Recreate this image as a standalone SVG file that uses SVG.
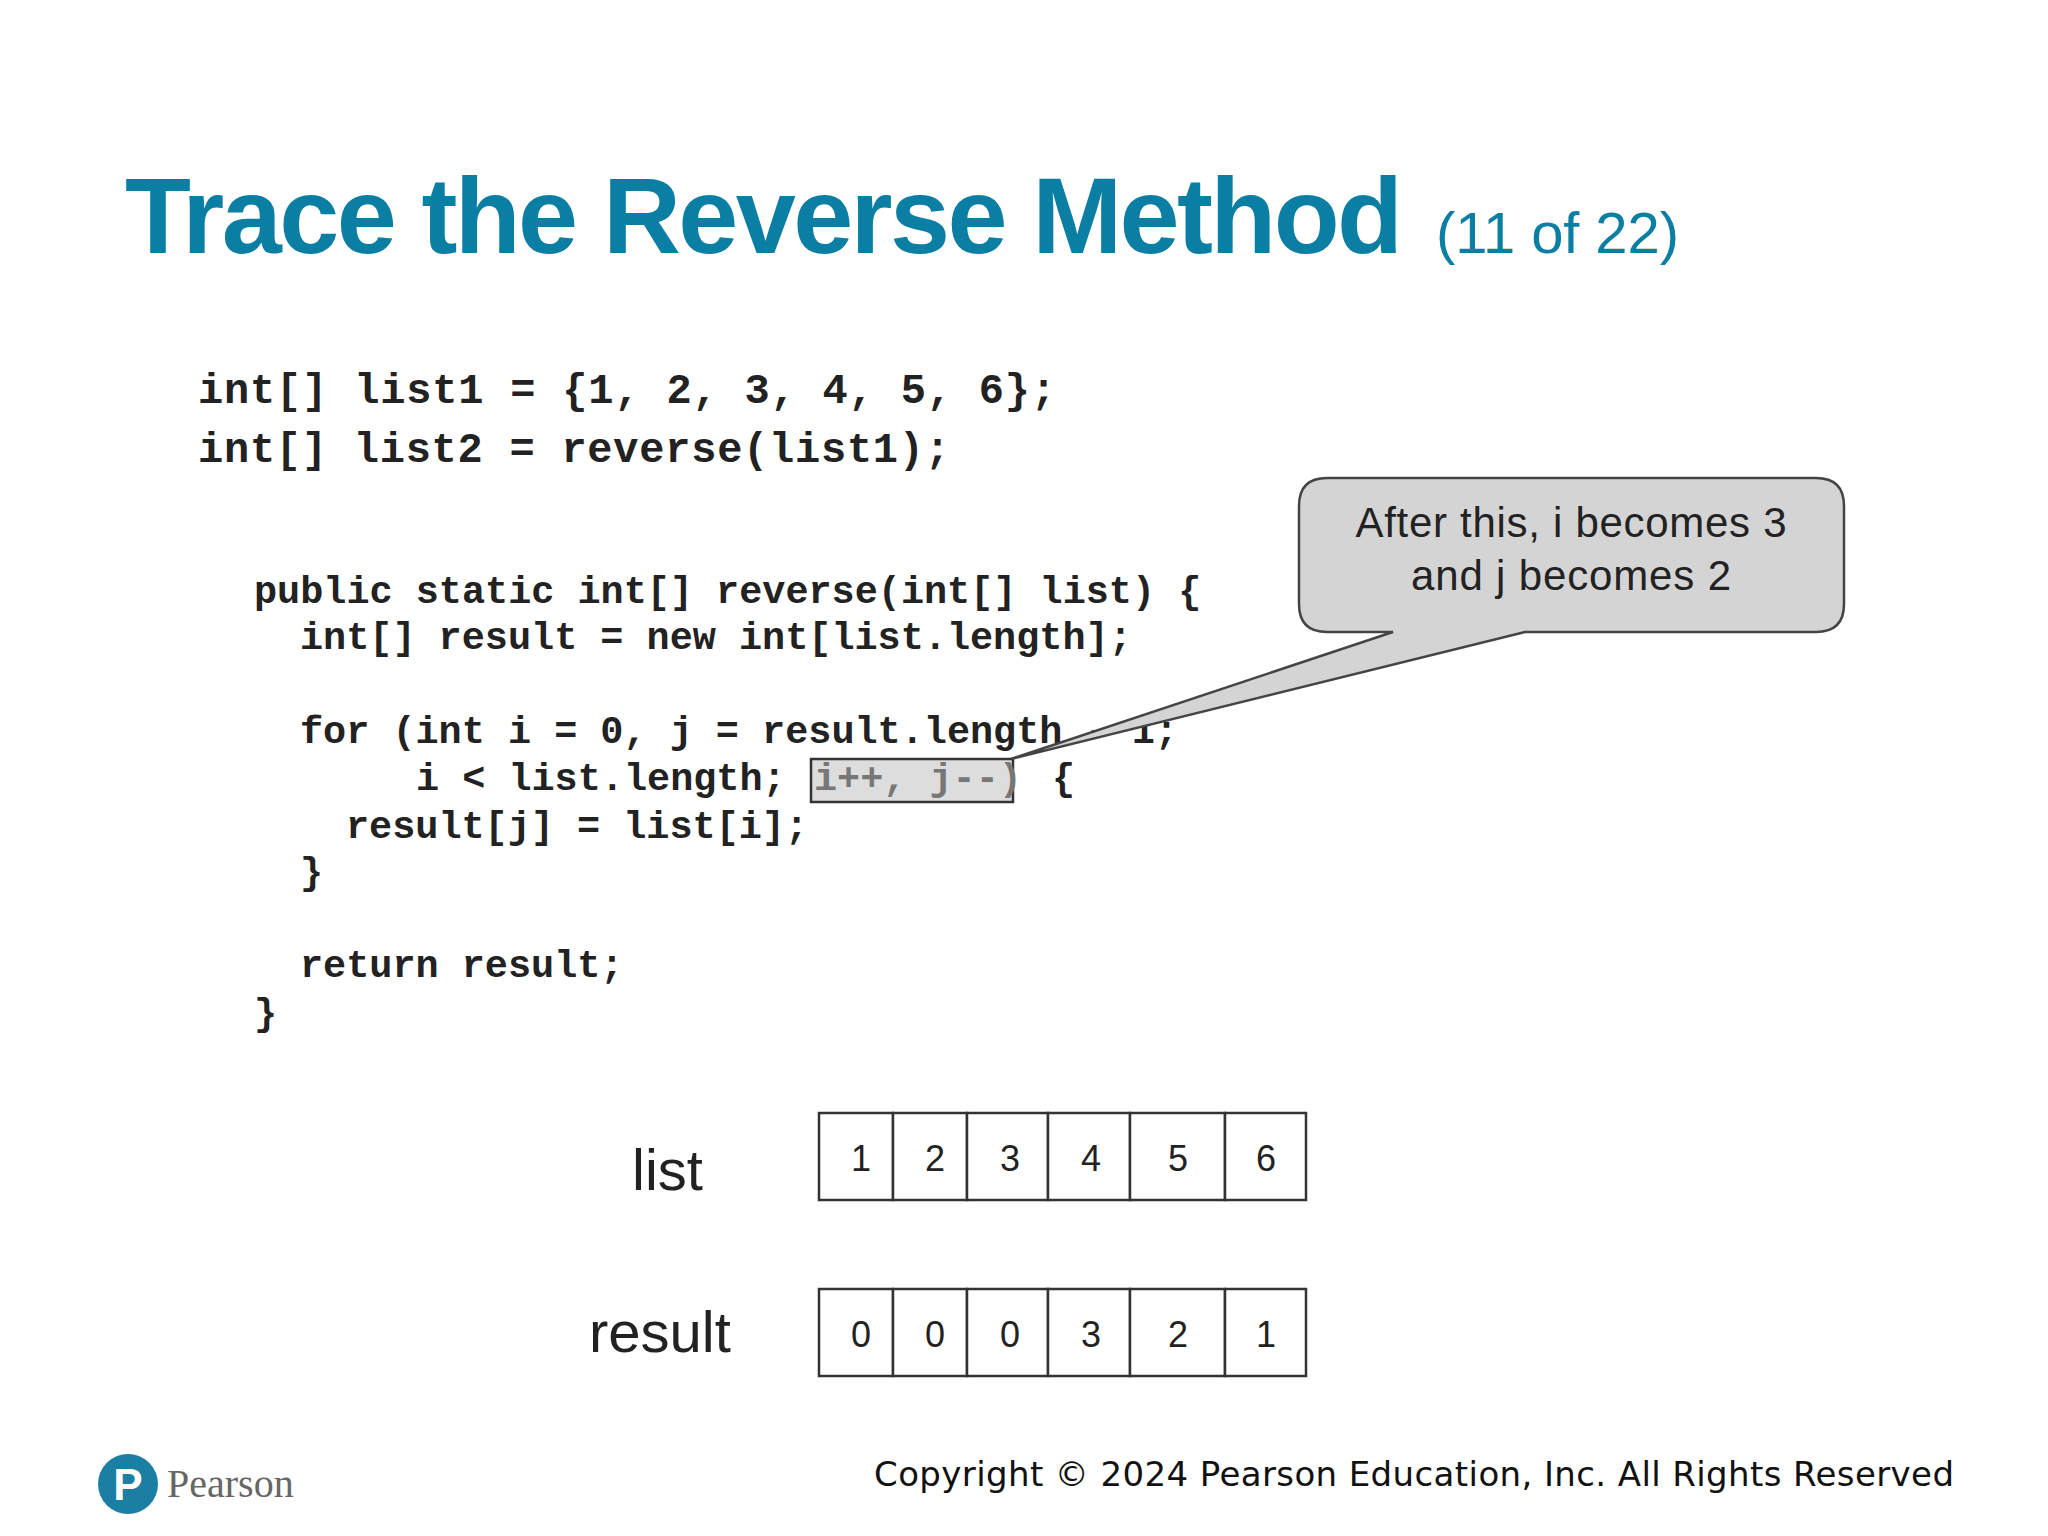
<svg xmlns="http://www.w3.org/2000/svg" width="2048" height="1536" viewBox="0 0 2048 1536">
<style>
.code{font-family:"Liberation Mono",monospace;font-weight:bold;fill:#222;white-space:pre;}
.cell{fill:#fff;stroke:#333;stroke-width:2.5;}
.num{font-family:"Liberation Sans",Arial,sans-serif;font-size:36px;fill:#222;text-anchor:middle;}
.lbl{font-family:"Liberation Sans",Arial,sans-serif;font-size:58px;fill:#222;}
</style>
<rect width="2048" height="1536" fill="#fff"/>
<text x="125" y="253" font-family="Liberation Sans,Arial,sans-serif" font-weight="bold" font-size="108" fill="#0b7ea3" textLength="1278">Trace the Reverse Method</text>
<text x="1436" y="253" font-family="Liberation Sans,Arial,sans-serif" font-size="58" fill="#0b7ea3" textLength="243">(11 of 22)</text>
<g class="code" font-size="42">
<text x="198" y="403" textLength="858">int[] list1 = {1, 2, 3, 4, 5, 6};</text>
<text x="198" y="462" textLength="752">int[] list2 = reverse(list1);</text>
</g>
<g id="code" class="code" font-size="38.5">
<text x="254" y="603">public static int[] reverse(int[] list) {</text>
<text x="300" y="649">int[] result = new int[list.length];</text>
<text x="300" y="743">for (int i = 0, j = result.length - 1;</text>
<text x="416" y="790">i &lt; list.length;</text>
<text x="1052" y="790">{</text>
<text x="346" y="838">result[j] = list[i];</text>
<text x="300" y="884">}</text>
<text x="300" y="977">return result;</text>
<text x="254" y="1025">}</text>
</g>
<g id="highlight">
<rect x="811" y="759" width="202" height="43" fill="#ddd" stroke="#333" stroke-width="2.5"/>
<text x="814" y="790" class="code" font-size="38.5" style="fill:#777">i++, j--)</text>
</g>
<g id="callout">
<path d="M1327,478 H1816 Q1844,478 1844,506 V604 Q1844,632 1816,632 H1525 L1011,759 L1393,632 H1327 Q1299,632 1299,604 V506 Q1299,478 1327,478 Z" fill="#d4d4d4" stroke="#444" stroke-width="2.5"/>
<text x="1571" y="537" font-family="Liberation Sans,Arial,sans-serif" font-size="42" fill="#222" text-anchor="middle" textLength="431">After this, i becomes 3</text>
<text x="1571" y="590" font-family="Liberation Sans,Arial,sans-serif" font-size="42" fill="#222" text-anchor="middle" textLength="320">and j becomes 2</text>
</g>
<g id="list">
<text x="632" y="1190" class="lbl">list</text>
<rect class="cell" x="819" y="1113" width="74" height="87"/><rect class="cell" x="893" y="1113" width="74" height="87"/><rect class="cell" x="967" y="1113" width="81" height="87"/><rect class="cell" x="1048" y="1113" width="82" height="87"/><rect class="cell" x="1130" y="1113" width="95" height="87"/><rect class="cell" x="1225" y="1113" width="81" height="87"/>
<text class="num" x="861" y="1171">1</text><text class="num" x="935" y="1171">2</text><text class="num" x="1010" y="1171">3</text><text class="num" x="1091" y="1171">4</text><text class="num" x="1178" y="1171">5</text><text class="num" x="1266" y="1171">6</text>
</g>
<g id="result">
<text x="589" y="1352" class="lbl">result</text>
<rect class="cell" x="819" y="1289" width="74" height="87"/><rect class="cell" x="893" y="1289" width="74" height="87"/><rect class="cell" x="967" y="1289" width="81" height="87"/><rect class="cell" x="1048" y="1289" width="82" height="87"/><rect class="cell" x="1130" y="1289" width="95" height="87"/><rect class="cell" x="1225" y="1289" width="81" height="87"/>
<text class="num" x="861" y="1347">0</text><text class="num" x="935" y="1347">0</text><text class="num" x="1010" y="1347">0</text><text class="num" x="1091" y="1347">3</text><text class="num" x="1178" y="1347">2</text><text class="num" x="1266" y="1347">1</text>
</g>
<g id="logo">
<circle cx="128" cy="1484" r="30" fill="#1a7fa3"/>
<text x="128" y="1500" font-family="Liberation Sans,Arial,sans-serif" font-weight="bold" font-size="44" fill="#fff" text-anchor="middle">P</text>
<text x="167" y="1497" font-family="Liberation Serif,serif" font-size="40" fill="#666">Pearson</text>
</g>
<text x="874" y="1486" font-family="DejaVu Sans,sans-serif" font-size="34" fill="#111" textLength="1080">Copyright © 2024 Pearson Education, Inc. All Rights Reserved</text>
</svg>
